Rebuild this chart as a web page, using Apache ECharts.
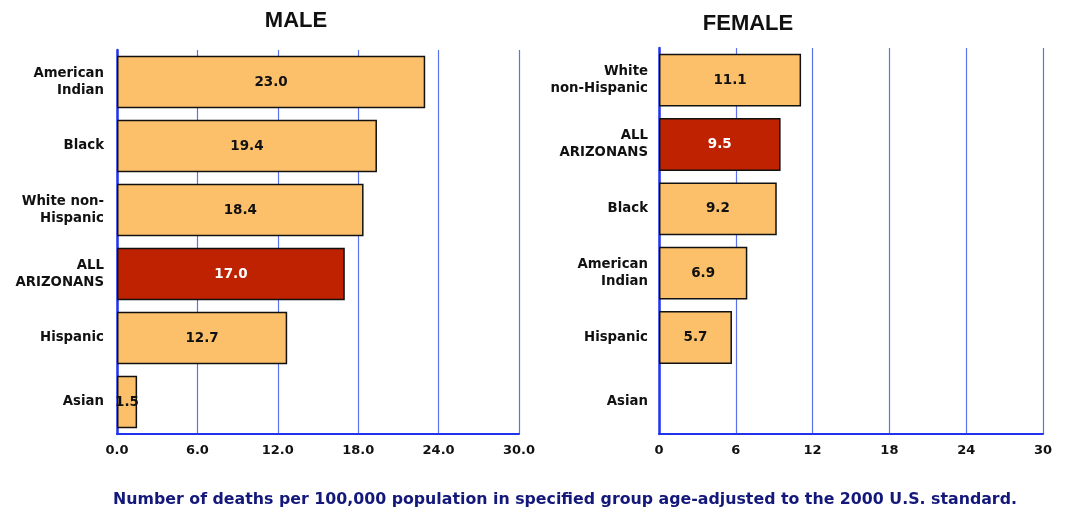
<!DOCTYPE html>
<html><head><meta charset="utf-8">
<script src="https://cdn.jsdelivr.net/npm/echarts@6/dist/echarts.min.js"></script>
<style>html,body{margin:0;padding:0;background:#fff}#c{width:1066px;height:509px}</style>
</head><body><div id="c"></div>
<script>
const maleCategories = ['American\nIndian', 'Black', 'White non-\nHispanic', 'ALL\nARIZONANS', 'Hispanic', 'Asian'];
const maleValues = [23.0, 19.4, 18.4, 17.0, 12.7, 1.5];
const femaleCategories = ['White\nnon-Hispanic', 'ALL\nARIZONANS', 'Black', 'American\nIndian', 'Hispanic', 'Asian'];
const femaleValues = [11.1, 9.5, 9.2, 6.9, 5.7, null];
const highlight = 'ALL\nARIZONANS';
const axisMin = 0, axisMax = 30, axisStep = 6;
const note = 'Number of deaths per 100,000 population in specified group age-adjusted to the 2000 U.S. standard.';

const FONT = 'DejaVu Sans';
const TFONT = 'Liberation Sans';
const BAR = '#FDC06A', RED = '#BE2200', BLUE = '#2233ee', GRIDBLUE = '#5a72f0';

function barData(cats, vals) {
  return vals.map((v, i) => {
    const hi = cats[i] === highlight;
    return {
      value: v,
      itemStyle: { color: hi ? RED : BAR },
      label: { color: hi ? '#fff' : '#111' }
    };
  });
}
function xAxis(idx, fmt) {
  return {
    type: 'value', gridIndex: idx, min: axisMin, max: axisMax, interval: axisStep,
    axisLine: { show: true, lineStyle: { color: BLUE, width: 2 } },
    axisTick: { show: false },
    splitLine: { show: true, lineStyle: { color: GRIDBLUE, width: 1.2 } },
    axisLabel: { formatter: fmt, fontFamily: FONT, fontWeight: 'bold', fontSize: 13, color: '#111', margin: 10 }
  };
}
function yAxis(idx, cats, margin) {
  return {
    type: 'category', gridIndex: idx, data: cats, inverse: true,
    axisLine: { show: true, lineStyle: { color: BLUE, width: 2.5 } },
    axisTick: { show: false },
    axisLabel: { fontFamily: FONT, fontWeight: 'bold', fontSize: 13.3, color: '#111', margin: margin, lineHeight: 17, align: 'right' }
  };
}
function series(idx, cats, vals) {
  return {
    type: 'bar', xAxisIndex: idx, yAxisIndex: idx, data: barData(cats, vals),
    barCategoryGap: '18%',
    itemStyle: { borderColor: '#111', borderWidth: 1.5 },
    label: { show: true, position: 'inside', formatter: p => p.value == null ? '' : p.value.toFixed(1),
      fontFamily: FONT, fontWeight: 'bold', fontSize: 13.5 }
  };
}
const chart = echarts.init(document.getElementById('c'));
chart.setOption({
  animation: false,
  title: [
    { text: 'MALE', left: 291, top: 5, textAlign: 'center', textStyle: { fontFamily: TFONT, fontWeight: 'bold', fontSize: 22, color: '#111' } },
    { text: 'FEMALE', left: 743, top: 8, textAlign: 'center', textStyle: { fontFamily: TFONT, fontWeight: 'bold', fontSize: 22, color: '#111' } },
    { text: note, left: 560, top: 487, textAlign: 'center', textStyle: { fontFamily: FONT, fontWeight: 'bold', fontSize: 15.8, color: '#14187a' } }
  ],
  grid: [
    { left: 117, right: 547, top: 50, bottom: 75 },
    { left: 659, right: 23, top: 48, bottom: 75 }
  ],
  xAxis: [xAxis(0, v => v.toFixed(1)), xAxis(1, v => String(v))],
  yAxis: [yAxis(0, maleCategories, 13), yAxis(1, femaleCategories, 11)],
  series: [series(0, maleCategories, maleValues), series(1, femaleCategories, femaleValues)]
});
</script></body></html>
